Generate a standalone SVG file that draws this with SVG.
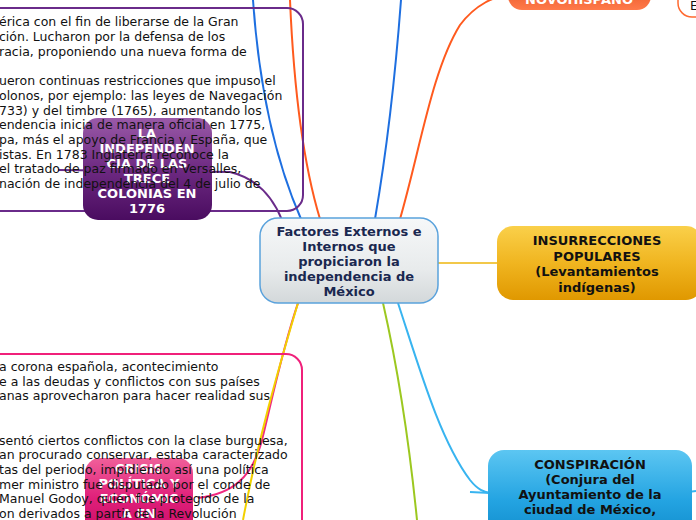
<svg xmlns="http://www.w3.org/2000/svg" width="696" height="520" viewBox="0 0 696 520">
<defs>
<linearGradient id="gCentral" x1="0" y1="0" x2="0" y2="1"><stop offset="0" stop-color="#f6f8f9"/><stop offset="0.6" stop-color="#e8ebec"/><stop offset="1" stop-color="#d3d8da"/></linearGradient>
<linearGradient id="gPurple" x1="0" y1="0" x2="0" y2="1"><stop offset="0" stop-color="#9a5aa8"/><stop offset="0.5" stop-color="#6e2a82"/><stop offset="1" stop-color="#4a0c60"/></linearGradient>
<linearGradient id="gPink" x1="0" y1="0" x2="0" y2="1"><stop offset="0" stop-color="#f0609a"/><stop offset="0.5" stop-color="#e0207a"/><stop offset="1" stop-color="#c80a66"/></linearGradient>
<linearGradient id="gYellow" x1="0" y1="0" x2="0" y2="1"><stop offset="0" stop-color="#fad04a"/><stop offset="0.5" stop-color="#f0b520"/><stop offset="1" stop-color="#e09800"/></linearGradient>
<linearGradient id="gBlue" x1="0" y1="0" x2="0" y2="1"><stop offset="0" stop-color="#5cc6f2"/><stop offset="0.5" stop-color="#24a4e2"/><stop offset="1" stop-color="#0a84c4"/></linearGradient>
<linearGradient id="gOrange" x1="0" y1="0" x2="0" y2="1"><stop offset="0" stop-color="#d84010"/><stop offset="1" stop-color="#ff7a4a"/></linearGradient>
</defs>
<style>
.conn{fill:none;stroke-width:2}
.note{font-family:"DejaVu Sans",Verdana,sans-serif;font-size:12.5px;fill:#111}
.nt{font-family:"DejaVu Sans",Verdana,sans-serif;font-size:13px;font-weight:bold;text-anchor:middle}
.white{fill:#fff}
.black{fill:#111}
</style>

<g id="connectors">
<path class="conn" stroke="#1e6fe0" d="M253 0 Q262 130 301 219"/>
<path class="conn" stroke="#ff5a1e" d="M290 0 Q296 140 320 219"/>
<path class="conn" stroke="#1e6fe0" d="M401 0 Q392 120 375 219"/>
<path class="conn" stroke="#ff5a1e" d="M400 219 C420 150 432 70 460 25 C475 5 495 -5 512 -5"/>
<path class="conn" stroke="#6a2b8a" stroke-width="1.5" d="M58 170 L230 172 C255 178 272 195 282 220"/>
<path class="conn" stroke="#f2c84a" stroke-width="1.5" d="M438 263 L498 263"/>
<path class="conn" stroke="#38b4f0" stroke-width="1.5" d="M398 303 C420 370 440 440 470 480 C478 490 484 492 490 493"/>
<path class="conn" stroke="#38b4f0" stroke-width="1.5" d="M470 492 L490 493"/>
<path class="conn" stroke="#38b4f0" stroke-width="1.5" d="M688 492 L696 491"/>
<path class="conn" stroke="#9cc820" stroke-width="2.5" d="M383 303 Q405 400 417 520"/>
<path class="conn" stroke="#f02a80" stroke-width="1.5" d="M298 303 C282 350 272 400 262 440 C252 478 232 494 198 498"/>
<path class="conn" stroke="#f2d000" stroke-width="2" d="M298 303 C278 370 258 440 243 520"/>
</g>

<g id="note-trece">
<rect x="-30" y="8" width="333" height="203" rx="16" fill="none" stroke="#6a2b8a" stroke-width="2"/>
</g>

<g id="node-trece">
<rect x="83" y="118" width="129" height="102" rx="15" fill="url(#gPurple)"/>
<text class="nt white" x="147" y="138">LA</text>
<text class="nt white" x="147" y="153">INDEPENDEN</text>
<text class="nt white" x="147" y="168">CIA DE LAS</text>
<text class="nt white" x="147" y="183">TRECE</text>
<text class="nt white" x="147" y="198">COLONIAS EN</text>
<text class="nt white" x="147" y="213">1776</text>
</g>

<g id="note-trece-text" class="note">
<text x="-1" y="26">érica con el fin de liberarse de la Gran</text>
<text x="-1" y="41">ción. Lucharon por la defensa de los</text>
<text x="-1" y="56">racia, proponiendo una nueva forma de</text>
<text x="-1" y="85">ueron continuas restricciones que impuso el</text>
<text x="-1" y="100">olonos, por ejemplo: las leyes de Navegación</text>
<text x="-1" y="115">733) y del timbre (1765), aumentando los</text>
<text x="-1" y="129">endencia inicia de manera oficial en 1775,</text>
<text x="-1" y="144">pa, más el apoyo de Francia y España, que</text>
<text x="-1" y="159">istas. En 1783 Inglaterra reconoce la</text>
<text x="-1" y="173">el tratado de paz firmado en Versalles,</text>
<text x="-1" y="188">nación de independencia del 4 de julio de</text>
</g>

<g id="note-crisis">
<rect x="-30" y="354" width="332" height="200" rx="16" fill="none" stroke="#f0207a" stroke-width="2"/>
</g>

<g id="node-crisis">
<rect x="85" y="458" width="108" height="80" rx="15" fill="url(#gPink)"/>
<text class="nt white" x="139" y="473">CRISIS</text>
<text class="nt white" x="139" y="488">POLÍTICA Y</text>
<text class="nt white" x="139" y="503">ECONÓMIC</text>
<text class="nt white" x="139" y="518">A EN</text>
</g>

<g id="note-crisis-text" class="note">
<text x="-1" y="371">a corona española, acontecimiento</text>
<text x="-1" y="386">e a las deudas y conflictos con sus países</text>
<text x="-1" y="400">anas aprovecharon para hacer realidad sus</text>
<text x="-1" y="445">sentó ciertos conflictos con la clase burguesa,</text>
<text x="-1" y="459">an procurado conservar, estaba caracterizado</text>
<text x="-1" y="474">tas del periodo, impidiendo así una política</text>
<text x="-1" y="489">mer ministro fue disputado por el conde de</text>
<text x="-1" y="503">Manuel Godoy, quien fue protegido de la</text>
<text x="-1" y="518">on derivados a partir de la Revolución</text>
</g>

<g id="node-central">
<rect x="260" y="218" width="178" height="85" rx="18" fill="url(#gCentral)" stroke="#5aa2dc" stroke-width="1.5"/>
<text class="nt" fill="#1a2850" font-size="13.5" x="349" y="236">Factores Externos e</text>
<text class="nt" fill="#1a2850" font-size="13.5" x="349" y="251">Internos que</text>
<text class="nt" fill="#1a2850" font-size="13.5" x="349" y="266">propiciaron la</text>
<text class="nt" fill="#1a2850" font-size="13.5" x="349" y="281">independencia de</text>
<text class="nt" fill="#1a2850" font-size="13.5" x="349" y="296">México</text>
</g>

<g id="node-novohispano">
<rect x="508" y="-30" width="143" height="40" rx="14" fill="url(#gOrange)"/>
<text class="nt white" x="579" y="4">NOVOHISPANO</text>
</g>

<g id="note-topright">
<rect x="678" y="-30" width="60" height="47" rx="14" fill="#fff" stroke="#ff6a30" stroke-width="1.5"/>
<text class="note" x="690" y="10">E</text>
</g>

<g id="node-insurrecciones">
<rect x="497" y="226" width="205" height="74" rx="16" fill="url(#gYellow)"/>
<text class="nt black" x="597" y="245">INSURRECCIONES</text>
<text class="nt black" x="597" y="261">POPULARES</text>
<text class="nt black" x="597" y="276">(Levantamientos</text>
<text class="nt black" x="597" y="292">indígenas)</text>
</g>

<g id="node-conspiracion">
<rect x="488" y="450" width="204" height="100" rx="16" fill="url(#gBlue)"/>
<text class="nt black" x="590" y="469">CONSPIRACIÓN</text>
<text class="nt black" x="590" y="484">(Conjura del</text>
<text class="nt black" x="590" y="499">Ayuntamiento de la</text>
<text class="nt black" x="590" y="514">ciudad de México,</text>
</g>
</svg>
